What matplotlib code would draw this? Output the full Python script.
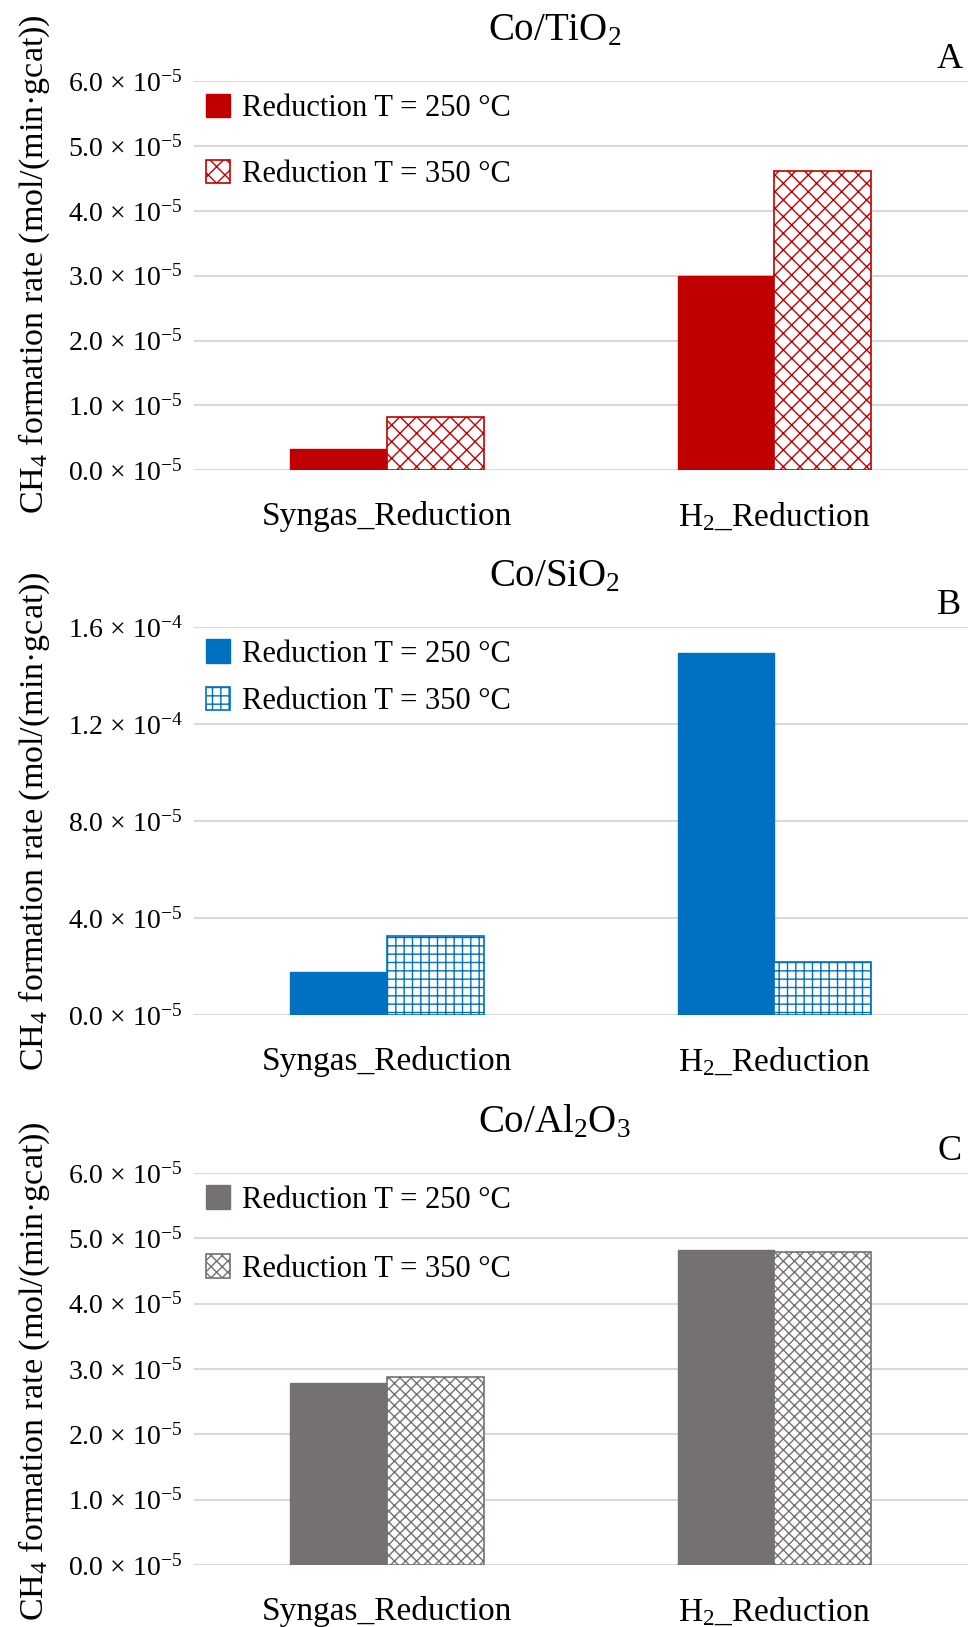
import numpy as np
import matplotlib
matplotlib.use("Agg")
import matplotlib.pyplot as plt

plt.rcParams["font.family"] = ["Liberation Serif", "DejaVu Serif"]
plt.rcParams["mathtext.fontset"] = "custom"
plt.rcParams["mathtext.rm"] = "Liberation Serif"
plt.rcParams["mathtext.it"] = "Liberation Serif:italic"
plt.rcParams["hatch.linewidth"] = 1.0

CATEGORIES = ["Syngas_Reduction", "H$_2$_Reduction"]
SERIES = ["Reduction T = 250 °C", "Reduction T = 350 °C"]

# values in mol/(min*gcat)
TIO2_250 = [0.32e-5, 3.00e-5]
TIO2_350 = [0.82e-5, 4.61e-5]
SIO2_250 = [1.80e-5, 14.93e-5]
SIO2_350 = [3.25e-5, 2.18e-5]
AL2O3_250 = [2.79e-5, 4.82e-5]
AL2O3_350 = [2.88e-5, 4.79e-5]

TIO2_TICKS = [0, 1e-5, 2e-5, 3e-5, 4e-5, 5e-5, 6e-5]
TIO2_TICKLABELS = ["0.0", "1.0", "2.0", "3.0", "4.0", "5.0", "6.0"]
SIO2_TICKS = [0, 4e-5, 8e-5, 1.2e-4, 1.6e-4]
SIO2_TICKLABELS = ["0.0", "4.0", "8.0", "1.2", "1.6"]
SIO2_EXP = ["-5", "-5", "-5", "-4", "-4"]
AL2O3_TICKS = TIO2_TICKS
AL2O3_TICKLABELS = TIO2_TICKLABELS

YLABEL = "CH$_4$ formation rate (mol/(min·gcat))"


def fmt(labels, exps):
    return [f"{l} × 10$^{{{e}}}$" for l, e in zip(labels, exps)]


def panel(ax, v250, v350, color, hatch, ticks, ticklabels, title, letter, spacing, label_y):
    x = np.arange(len(CATEGORIES))
    w = 0.25
    ax.bar(x - w / 2, v250, w, color=color, edgecolor=color, linewidth=1, label=SERIES[0], zorder=3)
    ax.bar(x + w / 2, v350, w, color="white", edgecolor=color, hatch=hatch, linewidth=1.2,
           label=SERIES[1], zorder=3)
    ax.set_xlim(-0.5, 1.5)
    ax.set_ylim(ticks[0], ticks[-1])
    ax.set_yticks(ticks)
    ax.set_yticklabels(ticklabels, fontsize=20)
    ax.set_xticks(x)
    ax.set_xticklabels(CATEGORIES, fontsize=24)
    ax.tick_params(axis="both", length=0)
    ax.tick_params(axis="x", pad=22)
    ax.tick_params(axis="y", pad=8)
    ax.grid(axis="y", color="#D9D9D9", linewidth=1.5, zorder=0)
    for s in ax.spines.values():
        s.set_visible(False)
    ax.set_ylabel(YLABEL, fontsize=24.5)
    ax.yaxis.set_label_coords(-0.183, label_y)
    ax.text(0.466, 1.13, title, transform=ax.transAxes, fontsize=28, ha="center", va="center")
    ax.text(0.976, 1.055, letter, transform=ax.transAxes, fontsize=26, ha="center", va="center")
    ax.legend(loc="upper left", bbox_to_anchor=(0.0, 1.0), frameon=False, fontsize=22,
              handlelength=0.8, handleheight=0.8, handletextpad=0.4, labelspacing=spacing,
              borderaxespad=0.0)


fig = plt.figure(figsize=(9.68, 16.27), dpi=100)
ax1 = fig.add_axes([0.200, 0.711, 0.80, 0.239])
ax2 = fig.add_axes([0.200, 0.376, 0.80, 0.2385])
ax3 = fig.add_axes([0.200, 0.038, 0.80, 0.241])

panel(ax1, TIO2_250, TIO2_350, "#C00000", "xx", TIO2_TICKS,
      fmt(TIO2_TICKLABELS, ["-5"] * 7), "Co/TiO$_2$", "A", 1.2, 0.53)
panel(ax2, SIO2_250, SIO2_350, "#0070C0", "++", SIO2_TICKS,
      fmt(SIO2_TICKLABELS, SIO2_EXP), "Co/SiO$_2$", "B", 0.6, 0.50)
panel(ax3, AL2O3_250, AL2O3_350, "#767171", "xxx", AL2O3_TICKS,
      fmt(AL2O3_TICKLABELS, ["-5"] * 7), "Co/Al$_2$O$_3$", "C", 1.3, 0.495)

fig.savefig("out.png", dpi=100)
